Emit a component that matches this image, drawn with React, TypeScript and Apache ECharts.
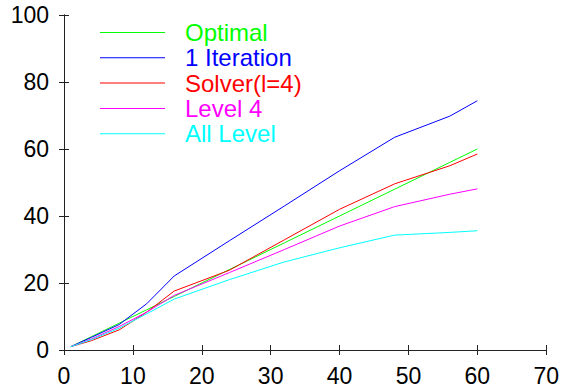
import React, { useEffect, useRef } from "react";
import * as echarts from "echarts";

const xValues = [1, 4, 8, 12, 16, 24, 32, 40, 48, 56, 60];
const optimal = [1, 4, 8, 12, 16, 24, 32, 40, 48, 56, 60];
const oneIteration = [1, 3.8, 7.6, 13.8, 22.1, 32.6, 43.0, 53.5, 63.5, 69.8, 74.4];
const solverL4 = [1, 2.8, 6.0, 11.3, 17.6, 23.8, 32.9, 42.0, 49.6, 55.0, 58.5];
const level4 = [1, 3.3, 7.0, 11.3, 16.3, 23.1, 30.0, 37.0, 42.8, 46.5, 48.1];
const allLevel = [1, 3.1, 6.5, 10.8, 15.2, 21.0, 26.3, 30.5, 34.3, 35.1, 35.6];

const seriesNames = ["Optimal", "1 Iteration", "Solver(l=4)", "Level 4", "All Level"];
const seriesColors = ["#00ff00", "#0000ff", "#ff0000", "#ff00ff", "#00ffff"];
const seriesValues = [optimal, oneIteration, solverL4, level4, allLevel];

const FONT = "'Liberation Sans', Arial, Helvetica, sans-serif";

export default function App() {
  const ref = useRef<HTMLDivElement>(null);
  useEffect(() => {
    if (!ref.current) return;
    const chart = echarts.init(ref.current, undefined, { renderer: "svg" });
    const axisLine = { show: true, lineStyle: { color: "#222", width: 1 } };
    const axisTick = { show: true, inside: true, length: 5, lineStyle: { color: "#222", width: 1 } };
    chart.setOption({
      animation: false,
      backgroundColor: "#fff",
      grid: { left: 64, right: 14, top: 15, bottom: 37, containLabel: false },
      legend: {
        orient: "vertical",
        left: 100,
        top: 20,
        padding: 0,
        itemGap: 0.3,
        itemWidth: 65,
        itemHeight: 1,
        icon: "rect",
        data: seriesNames.map((n, i) => ({
          name: n,
          textStyle: { color: seriesColors[i] },
          itemStyle: { color: seriesColors[i] },
        })),
        textStyle: {
          fontFamily: FONT,
          fontSize: 24,
          lineHeight: 25,
          padding: [0, 0, 0, 15],
        },
      },
      xAxis: [
        {
          type: "value",
          min: 0,
          max: 70,
          interval: 10,
          position: "bottom",
          axisLine,
          axisTick,
          splitLine: { show: false },
          axisLabel: { color: "#000", fontFamily: FONT, fontSize: 23, margin: 14 },
        },
        {
          type: "value",
          min: 0,
          max: 70,
          interval: 10,
          position: "top",
          axisLine,
          axisTick,
          splitLine: { show: false },
          axisLabel: { show: false },
        },
      ],
      yAxis: [
        {
          type: "value",
          min: 0,
          max: 100,
          interval: 20,
          position: "left",
          axisLine,
          axisTick,
          splitLine: { show: false },
          axisLabel: { color: "#000", fontFamily: FONT, fontSize: 23, margin: 15 },
        },
        {
          type: "value",
          min: 0,
          max: 100,
          interval: 20,
          position: "right",
          axisLine,
          axisTick,
          splitLine: { show: false },
          axisLabel: { show: false },
        },
      ],
      series: seriesNames.map((n, i) => ({
        name: n,
        type: "line",
        xAxisIndex: 0,
        yAxisIndex: 0,
        symbol: "none",
        color: seriesColors[i],
        lineStyle: { color: seriesColors[i], width: 1 },
        data: xValues.map((x, j) => [x, seriesValues[i][j]]),
      })),
    });
    return () => chart.dispose();
  }, []);
  return <div ref={ref} style={{ width: 562, height: 387, position: "absolute", left: 0, top: 0 }} />;
}
